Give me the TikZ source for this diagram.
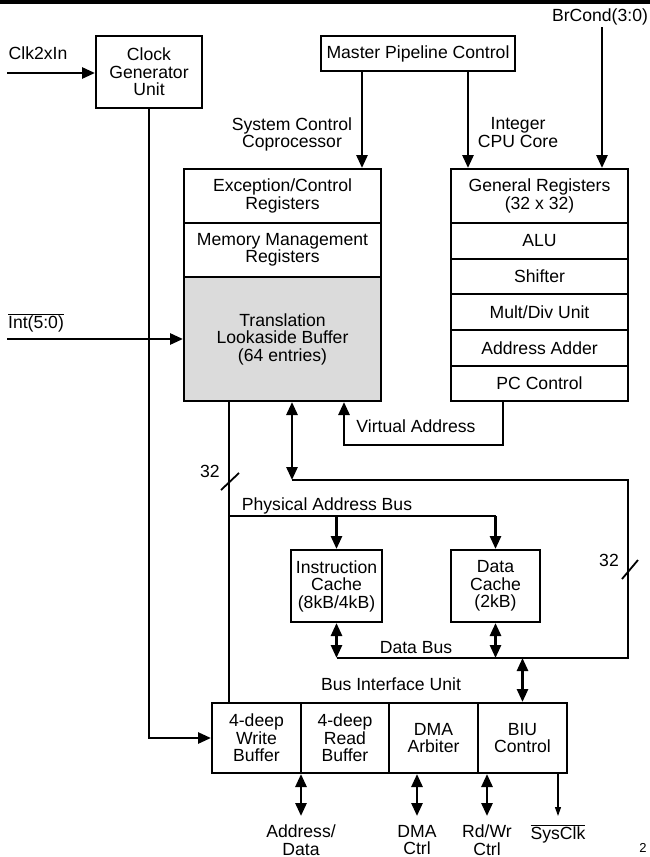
\documentclass[tikz,border=0pt]{standalone}
\usepackage{fontspec}
\setmainfont{Liberation Sans}
\usetikzlibrary{arrows.meta}
\begin{document}
\begin{tikzpicture}[x=1pt,y=-1pt,
  every node/.style={font=\fontsize{17.6}{17.5}\selectfont, inner sep=0pt, align=center},
  box/.style={draw, line width=2pt},
  tlbfill/.style={fill=black!14},
  conn/.style={line width=2.7pt},
  arr/.style={conn, -{Triangle[length=13pt,width=11pt]}},
  biarr/.style={conn, {Triangle[length=13pt,width=11pt]}-{Triangle[length=13pt,width=11pt]}},
  thinarr/.style={line width=1.1pt, -{Triangle[length=9pt,width=6pt]}},
  slash/.style={line width=1.8pt},
  lbl/.style={}]
\useasboundingbox (0,0) rectangle (650,857);
\fill (0,0) rectangle (650,3.5);

% clock
\node[box, minimum width=106pt, minimum height=72pt] (clk) at (149,72) {Clock\\Generator\\Unit};
\node[lbl] (clkinl) at (38,53) {Clk2xIn};
\coordinate (clkin) at (7,73);
\draw[arr] (clkin) -- (clkin -| clk.west);

% master pipeline
\node[box, minimum width=194pt, minimum height=35pt] (mpc) at (418,53.5) {Master Pipeline Control};

% coprocessor column
\node[box, minimum width=197pt, minimum height=54pt] (exc) at (282.5,196) {Exception/Control\\Registers};
\node[box, minimum width=197pt, minimum height=54pt] (mmr) at (282.5,250) {Memory Management\\Registers};
\node[box, tlbfill, minimum width=197pt, minimum height=124pt] (tlb) at (282.5,339) {Translation\\Lookaside Buffer\\(64 entries)};

% CPU column
\node[box, minimum width=177pt, minimum height=54pt] (gr) at (539.5,196) {General Registers\\(32 x 32)};
\node[box, minimum width=177pt, minimum height=36pt] (alu) at (539.5,241) {ALU};
\node[box, minimum width=177pt, minimum height=35pt] (shf) at (539.5,276.5) {Shifter};
\node[box, minimum width=177pt, minimum height=36pt] (mdu) at (539.5,312) {Mult/Div Unit};
\node[box, minimum width=177pt, minimum height=36pt] (aad) at (539.5,348) {Address Adder};
\node[box, minimum width=177pt, minimum height=35pt] (pcc) at (539.5,383.5) {PC Control};

\node[lbl] (scc) at (292,134.5) {System Control\\Coprocessor};
\node[lbl] (icc) at (518,132.5) {Integer\\CPU Core};
\node[lbl] (brc) at (600,17) {BrCond(3:0)};

\coordinate (xa) at (362,0);
\coordinate (xb) at (468,0);
\coordinate (brtop) at (602,27);
\draw[arr] (mpc.south -| xa) -- (exc.north -| xa);
\draw[arr] (mpc.south -| xb) -- (gr.north -| xb);
\draw[arr] (brtop) -- (gr.north -| brtop);

% Int
\node[lbl] (intl) at (36,323) {$\overline{\mbox{Int(5:0)}}$};
\coordinate (intin) at (7,339);
\draw[arr] (intin) -- (intin -| tlb.west);

% caches
\node[box, minimum width=91pt, minimum height=72pt] (ic) at (336.5,586) {Instruction\\Cache\\(8kB/4kB)};
\node[box, minimum width=89pt, minimum height=72pt] (dc) at (495.5,586) {Data\\Cache\\(2kB)};

% bus interface unit
\node[box, minimum width=89pt, minimum height=70pt] (wb) at (256.5,738) {4-deep\\Write\\Buffer};
\node[box, minimum width=88pt, minimum height=70pt] (rb) at (345,738) {4-deep\\Read\\Buffer};
\node[box, minimum width=89pt, minimum height=70pt] (dma) at (433.5,738) {DMA\\Arbiter};
\node[box, minimum width=89pt, minimum height=70pt] (biu) at (522.5,738) {BIU\\Control};
\node[lbl] (biul) at (391,684) {Bus Interface Unit};

% clock to write buffer
\draw[arr] (clk.south) |- (wb.west);

% physical address path
\coordinate (xl) at (229,0);
\coordinate (pab) at (229,516);
\draw[conn] (tlb.south -| xl) -- (wb.north -| xl);
\draw[slash] (221,490) -- (239,473);
\node[lbl] (n32a) at (210,471) {32};
\draw[conn] (pab) -- (pab -| dc.north);
\draw[arr] (pab -| ic.north) -- (ic.north);
\draw[arr] (pab -| dc.north) -- (dc.north);
\node[lbl] (pabl) at (327,506) {Physical Address Bus};

% virtual address
\coordinate (va) at (344,445);
\coordinate (xp) at (503,0);
\draw[arr] (pcc.south -| xp) |- (va) -- (tlb.south -| va);
\node[lbl] (val) at (416,426) {Virtual Address};

% data path loop
\coordinate (xd) at (292,0);
\coordinate (hb) at (292,480);
\coordinate (rc) at (628,480);
\coordinate (db) at (628,658);
\draw[biarr] (tlb.south -| xd) -- (hb);
\draw[conn] (hb) -- (rc) -- (db) -- (db -| ic.south);
\draw[slash] (622,579) -- (638,560);
\node[lbl] (n32b) at (609,560) {32};
\draw[biarr] (ic.south) -- (db -| ic.south);
\draw[biarr] (dc.south) -- (db -| dc.south);
\draw[biarr] (db -| biu.north) -- (biu.north);
\node[lbl] (dbl) at (416,648) {Data Bus};

% bottom pins
\coordinate (pa) at (301,816);
\coordinate (pd) at (417,816);
\coordinate (pr) at (487,816);
\coordinate (ps) at (558,816);
\draw[biarr] (wb.south -| pa) -- (pa);
\draw[biarr] (dma.south -| pd) -- (pd);
\draw[biarr] (biu.south -| pr) -- (pr);
\draw[thinarr] (biu.south -| ps) -- (ps);
\node[lbl] (adl) at (301,840) {Address/\\Data};
\node[lbl] (dml) at (417,840) {DMA\\Ctrl};
\node[lbl] (rwl) at (487,840) {Rd/Wr\\Ctrl};
\node[lbl] (scl) at (558,834) {$\overline{\mbox{SysClk}}$};
\node[lbl, font=\fontsize{13}{13}\selectfont] (pg) at (643,848) {2};
\end{tikzpicture}
\end{document}
